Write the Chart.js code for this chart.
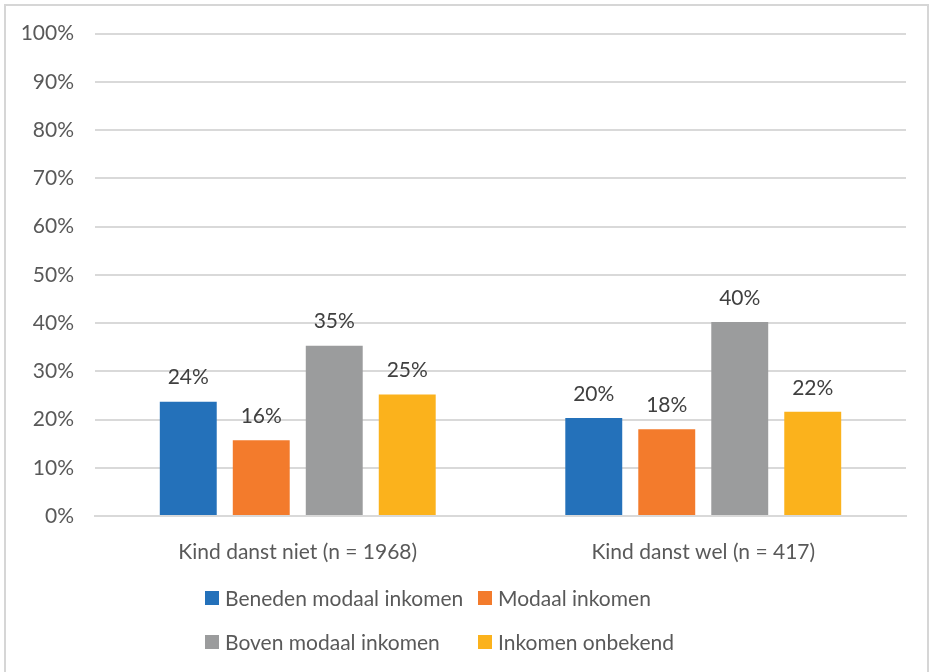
<!DOCTYPE html>
<html>
<head>
<meta charset="utf-8">
<script src="https://cdn.jsdelivr.net/npm/chart.js@4"></script>
<style>
  html, body { margin: 0; padding: 0; background: #fff; overflow: hidden; }
  #frame { position: absolute; left: 4px; top: 4px; width: 921px; height: 700px; border: 2px solid #d6d6d6; }
  #wrap { position: absolute; left: 0; top: 0; width: 933px; height: 672px; }
</style>
</head>
<body>
<div id="frame"></div>
<div id="wrap"><canvas id="chart"></canvas></div>
<script>
// Categories and series (percentages)
const categories = ['Kind danst niet (n = 1968)', 'Kind danst wel (n = 417)'];
const seriesNames = ['Beneden modaal inkomen', 'Modaal inkomen', 'Boven modaal inkomen', 'Inkomen onbekend'];
const benedenModaal = [23.7, 20.3];
const modaal = [15.7, 18.0];
const bovenModaal = [35.3, 40.2];
const onbekend = [25.2, 21.6];
const seriesColors = ['#2471ba', '#f37b2c', '#9b9c9d', '#fbb21c'];

const FONT = 'Lato, "Noto Sans", sans-serif';
const TEXT = '#595959';

// Labels above each bar
const barLabels = {
    id: 'barLabels',
    afterDatasetsDraw(chart) {
        const ctx = chart.ctx;
        ctx.save();
        ctx.font = '21px ' + FONT;
        ctx.fillStyle = '#404040';
        ctx.textAlign = 'center';
        ctx.textBaseline = 'middle';
        chart.data.datasets.forEach(function (ds, i) {
            chart.getDatasetMeta(i).data.forEach(function (bar, j) {
                ctx.fillText(Math.round(ds.data[j]) + '%', bar.x, bar.y - 24);
            });
        });
        ctx.restore();
    }
};

// Two-row legend with aligned columns, like the original
const gridLegend = {
    id: 'gridLegend',
    afterDraw(chart) {
        const ctx = chart.ctx;
        const cols = [205, 478];
        const rows = [598, 642];
        ctx.save();
        ctx.font = '21px ' + FONT;
        ctx.textBaseline = 'middle';
        chart.data.datasets.forEach(function (ds, i) {
            const x = cols[i % 2];
            const y = rows[Math.floor(i / 2)];
            ctx.fillStyle = ds.backgroundColor;
            ctx.fillRect(x, y - 7, 14, 14);
            ctx.fillStyle = TEXT;
            ctx.fillText(ds.label, x + 20, y + 1);
        });
        ctx.restore();
    }
};

const values = [benedenModaal, modaal, bovenModaal, onbekend];

new Chart(document.getElementById('chart'), {
    type: 'bar',
    data: {
        labels: categories,
        datasets: seriesNames.map(function (name, i) {
            return {
                label: name,
                data: values[i],
                backgroundColor: seriesColors[i],
                categoryPercentage: 0.72,
                barPercentage: 0.78
            };
        })
    },
    options: {
        responsive: true,
        maintainAspectRatio: false,
        animation: false,
        layout: { padding: { top: 28, right: 27, left: 0, bottom: 0 } },
        plugins: {
            legend: { display: false },
            tooltip: { enabled: false }
        },
        scales: {
            x: {
                grid: { display: false },
                border: { color: '#d9d9d9', width: 2 },
                ticks: { color: TEXT, font: { family: FONT, size: 21 }, padding: 16 },
                afterFit(scale) { scale.height = 156; }
            },
            y: {
                min: 0,
                max: 100,
                grid: { color: '#d9d9d9', lineWidth: 2, drawTicks: false },
                border: { display: false },
                ticks: {
                    stepSize: 10,
                    padding: 21,
                    color: TEXT,
                    font: { family: FONT, size: 21 },
                    callback: function (v) { return v + '%'; }
                },
                afterFit(scale) { scale.width = 95; }
            }
        }
    },
    plugins: [barLabels, gridLegend]
});
</script>
</body>
</html>
